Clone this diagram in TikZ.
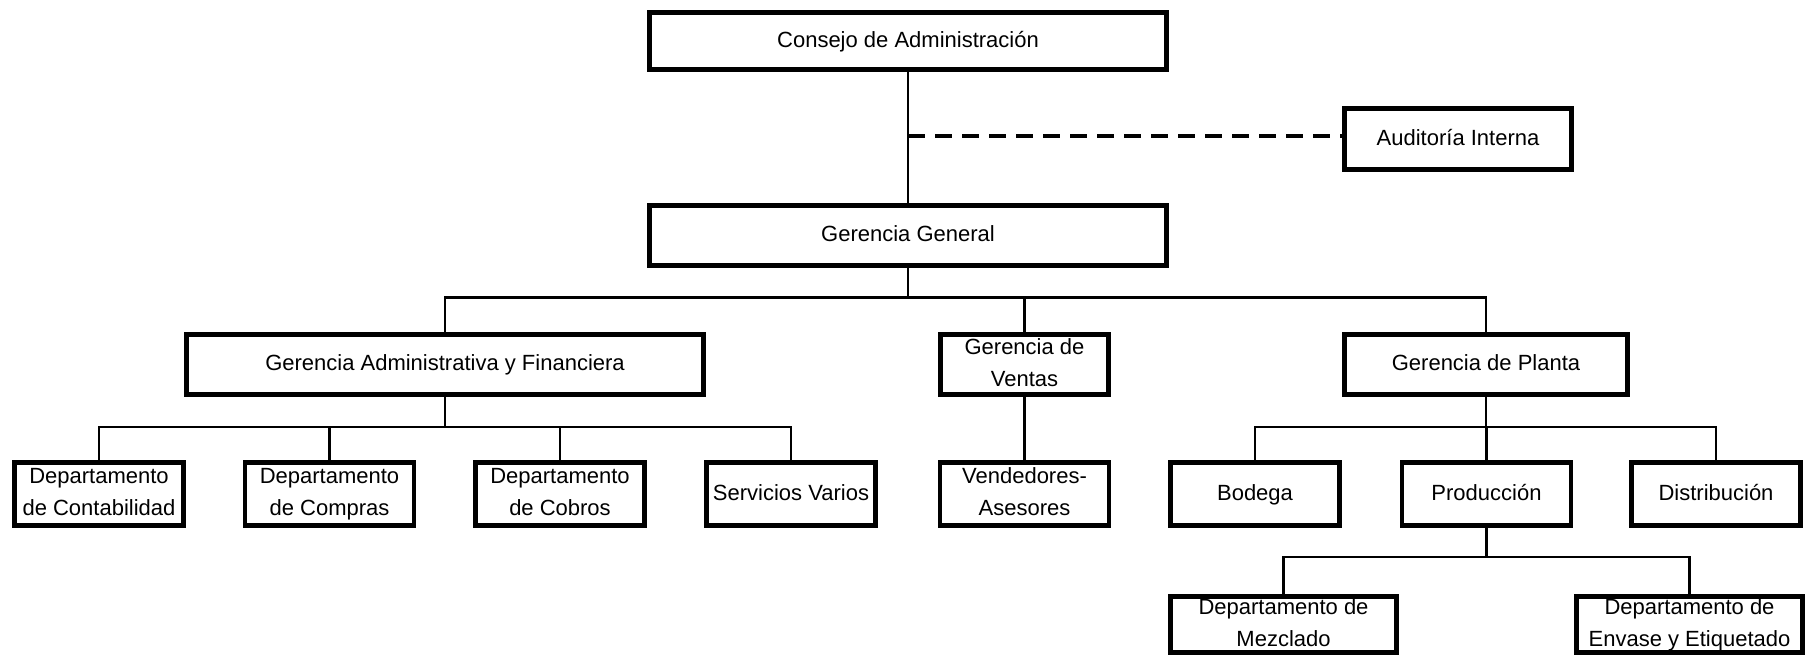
\documentclass[tikz,border=0pt]{standalone}
\usepackage{fontspec}
\setmainfont{Liberation Sans}
\newcommand{\linestrut}{\rule[-2.3pt]{0pt}{11pt}}
\begin{document}
\begin{tikzpicture}[x=0.5pt,y=-0.5pt,
		unit/.style={draw,line width=2.4pt,inner xsep=2pt,inner ysep=1pt,
			align=center,font=\fontsize{11}{16}\selectfont,
			execute at begin node=\linestrut,execute at end node=\linestrut},
		top/.style={unit,minimum width=258.5pt,minimum height=30pt},
		dept/.style={unit,minimum width=84.5pt,minimum height=31.5pt},
		sub/.style={unit,minimum width=113pt,minimum height=28pt},
		con/.style={line width=1.4pt},
		aux/.style={line width=1.8pt,dash pattern=on 8.5pt off 5pt}]
	\useasboundingbox (0,0) rectangle (1807,657);
	
	% Board and general management
	\node[top,minimum height=28.5pt] (consejo) at (908,41) {Consejo de Administración};
	\node[unit,minimum width=113.5pt,minimum height=30.5pt] (auditoria) at (1458,139)
	{Auditoría Interna};
	\node[top] (gg) at (908,235.5) {Gerencia General};
	\draw[con] (consejo) -- (gg);
	\coordinate (staff) at (consejo.south |- 0,136);
	\draw[aux] (staff) -- (staff -| auditoria.west);
	
	% Second level
	\node[top] (gaf) at (445,364.5) {Gerencia Administrativa y Financiera};
	\node[unit,minimum width=84pt,minimum height=30pt] (ventas) at (1024.5,364.5)
	{Gerencia de\\Ventas};
	\node[unit,minimum width=141.5pt,minimum height=30pt] (planta) at (1486,364.5)
	{Gerencia de Planta};
	\foreach \n in {gaf,ventas,planta}
		\draw[con] (gg.south) -- ++(0,30) -| (\n.north);
	
	% Departments under administration
	\foreach \n/\x/\txt in {contab/99/{Departamento\\de Contabilidad},
		compras/329.5/{Departamento\\de Compras},
		cobros/560/{Departamento\\de Cobros},
		servicios/791/{Servicios Varios}} {
		\node[dept] (\n) at (\x,494) {\txt};
		\draw[con] (gaf.south) -- ++(0,30) -| (\n.north);
	}
	
	% Sales
	\node[dept] (vendedores) at (1024.5,494) {Vendedores-\\Asesores};
	\draw[con] (ventas) -- (vendedores);
	
	% Plant
	\foreach \n/\x/\txt in {bodega/1255/Bodega,
		produccion/1486.5/Producción,
		distrib/1716/Distribución} {
		\node[dept] (\n) at (\x,494) {\txt};
		\draw[con] (planta.south) -- ++(0,30) -| (\n.north);
	}
	
	% Production
	\node[sub] (mezclado) at (1283.5,624.5) {Departamento de\\Mezclado};
	\node[sub] (envase) at (1689.5,624.5) {Departamento de\\Envase y Etiquetado};
	\foreach \n in {mezclado,envase}
		\draw[con] (produccion.south) -- ++(0,29) -| (\n.north);
	
\end{tikzpicture}
\end{document}
